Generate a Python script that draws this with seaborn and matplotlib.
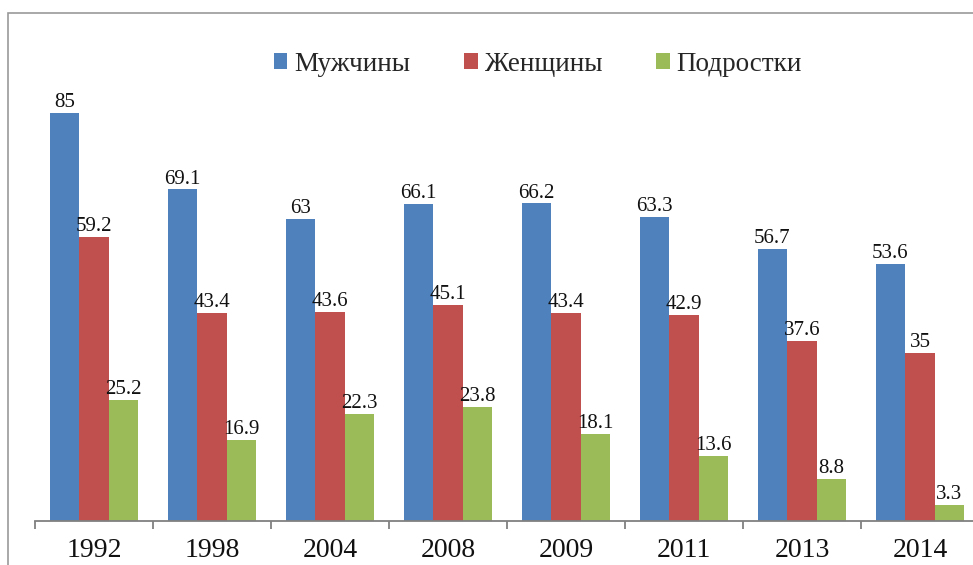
import matplotlib
matplotlib.use("Agg")
import matplotlib.pyplot as plt
from matplotlib.patches import Rectangle, Patch
import numpy as np
import pandas as pd
import seaborn as sns

years = ["1992", "1998", "2004", "2008", "2009", "2011", "2013", "2014"]
series = ["Мужчины", "Женщины", "Подростки"]
men = [85, 69.1, 63, 66.1, 66.2, 63.3, 56.7, 53.6]
women = [59.2, 43.4, 43.6, 45.1, 43.4, 42.9, 37.6, 35]
teens = [25.2, 16.9, 22.3, 23.8, 18.1, 13.6, 8.8, 3.3]
colors = ["#4F81BD", "#C0504D", "#9BBB59"]

df = pd.DataFrame({
    "year": years * 3,
    "group": [series[0]] * 8 + [series[1]] * 8 + [series[2]] * 8,
    "value": men + women + teens,
})

sns.set_theme(style="white")
plt.rcParams["font.family"] = ["Liberation Serif", "DejaVu Serif"]

W, H = 973, 565
fig = plt.figure(figsize=(W / 100, H / 100), dpi=100)

# outer chart border, running past the right and bottom edges
fig.patches.append(Rectangle((8 / W, -0.1), 1.2, 1 - 13 / H + 0.1,
                             transform=fig.transFigure, fill=False,
                             edgecolor="#9a9a9a", linewidth=1.2))

ax_left, ax_right = 35, 979
ax_bottom, ax_top = 521, 89
ax = fig.add_axes([ax_left / W, 1 - ax_bottom / H,
                   (ax_right - ax_left) / W, (ax_bottom - ax_top) / H])
ax.patch.set_alpha(0)

sns.barplot(data=df, x="year", y="value", hue="group", hue_order=series,
            palette=colors, saturation=1, width=0.75, gap=0, ax=ax,
            legend=False, errorbar=None, linewidth=0, edgecolor="none")

ax.set_ylim(0, 90)
ax.set_xlim(-0.5, 7.5)
ax.set_xlabel("")
ax.set_ylabel("")
ax.set_yticks([])

for cont, vals in zip(ax.containers, [men, women, teens]):
    ax.bar_label(cont, labels=[f"{v:g}" for v in vals], padding=0.5,
                 fontsize=15, color="#111111")

for s in ["top", "right", "left"]:
    ax.spines[s].set_visible(False)
ax.spines["bottom"].set_color("#808080")
ax.spines["bottom"].set_linewidth(1.3)

ax.set_xticks(np.arange(8))
ax.set_xticklabels(years, fontsize=20, color="#111111")
ax.tick_params(axis="x", which="major", length=0, pad=12)
ax.set_xticks(np.arange(-0.5, 8, 1), minor=True)
ax.tick_params(axis="x", which="minor", length=6, width=1.3,
               color="#808080", direction="out", bottom=True)

handles = [Patch(facecolor=c, edgecolor="none") for c in colors]
fig.legend(handles, series, loc="center", bbox_to_anchor=(538 / W, 1 - 64 / H),
           ncol=3, frameon=False, fontsize=19.5, handlelength=0.5,
           handleheight=0.5, handletextpad=0.25, columnspacing=2.0)

fig.savefig("out.png", dpi=100)
